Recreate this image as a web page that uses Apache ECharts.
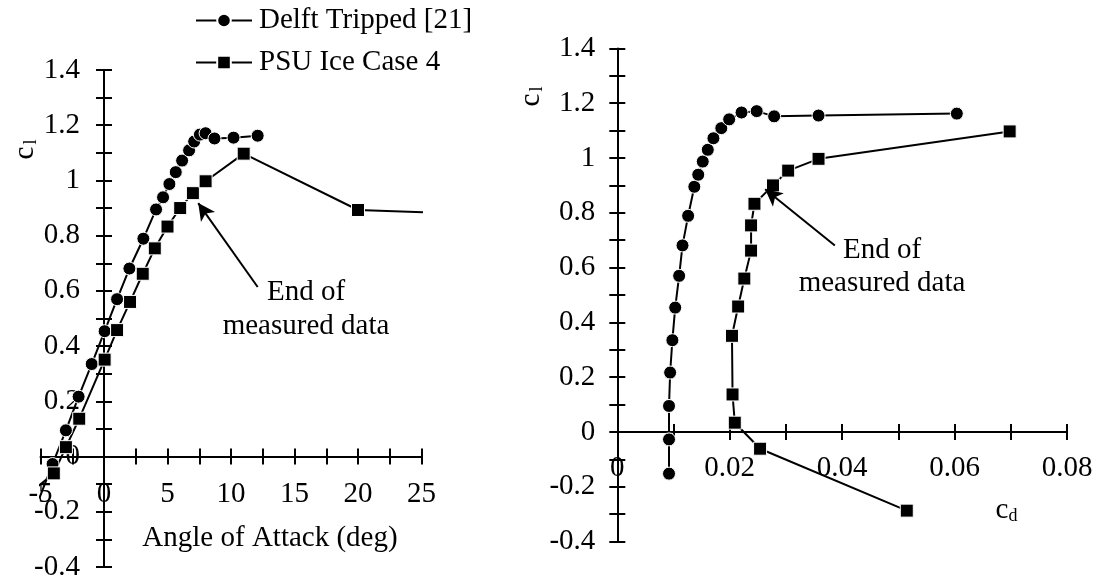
<!DOCTYPE html>
<html>
<head>
<meta charset="utf-8">
<script src="https://cdn.jsdelivr.net/npm/echarts@6.0.0/dist/echarts.min.js"></script>
<style>
  html, body { margin: 0; padding: 0; background: #fff; }
  #chart { width: 1096px; height: 581px; }
</style>
</head>
<body>
<div id="chart"></div>
<script>
// Delft tripped airfoil, angle of attack (deg), lift and drag coefficients
const alphaDelft = [-5.1, -4.05, -3, -2, -0.97, 0.05, 1.03, 2, 3.1, 4.1, 4.65, 5.15, 5.65, 6.15, 6.7, 7.1, 7.55, 8.0, 8.7, 10.2, 12.1];
const clDelft    = [-0.152, -0.027, 0.095, 0.217, 0.335, 0.454, 0.57, 0.681, 0.789, 0.895, 0.939, 0.987, 1.03, 1.072, 1.109, 1.141, 1.166, 1.171, 1.152, 1.155, 1.162];
const cdDelft    = [0.0092, 0.0092, 0.0092, 0.0094, 0.0098, 0.0103, 0.0110, 0.0116, 0.0126, 0.0137, 0.0144, 0.0152, 0.0161, 0.0171, 0.0185, 0.0199, 0.0221, 0.0248, 0.0279, 0.0358, 0.0604];

// PSU ice case 4
const alphaPsu = [-10, -3.95, -3, -1.95, 0.05, 1.03, 2.05, 3.05, 4.0, 5.0, 6.0, 7.0, 8.0, 11.0, 20.0, 30.0];
const clPsu    = [-0.287, -0.061, 0.034, 0.137, 0.351, 0.458, 0.56, 0.662, 0.754, 0.833, 0.9, 0.954, 0.997, 1.097, 0.893, 0.877];
const cdPsu    = [0.0515, 0.0254, 0.0209, 0.0205, 0.0204, 0.0215, 0.0226, 0.0238, 0.0238, 0.0244, 0.0277, 0.0304, 0.0358, 0.0698];

// Axis ranges and tick steps
const alphaRange = [-5, 25, 5];
const cdRange = [0, 0.08, 0.02];
const clRange = [-0.4, 1.4, 0.2];

// "End of measured data" arrows: [tail, head] in data coordinates
const arrowLift = [[12.1, 0.614], [7.42, 0.918]];
const arrowPolar = [[0.0387, 0.681], [0.0263, 0.886]];

const seriesNames = ['Delft Tripped [21]', 'PSU Ice Case 4'];

const FONT = 'Liberation Serif, Times New Roman, serif';
const FS = 29;
const BLACK = '#000';

// Plot areas
const gridL = { left: 40.5, top: 70, width: 381, height: 497 };
const gridR = { left: 617.3, top: 48.4, width: 449.7, height: 493.2 };

function pairs(xs, ys) {
  const n = Math.min(xs.length, ys.length);
  const out = [];
  for (let i = 0; i < n; i++) out.push([xs[i], ys[i]]);
  return out;
}

// Pixel shift that moves an edge axis onto the other axis's zero.
function zeroShift(range, span) {
  return (0 - range[0]) / (range[1] - range[0]) * span;
}

// One visible axis plus an inner twin gives the crossing tick marks.
function valueAxis(grid, range, position, offset, outer, labelMargin) {
  return {
    type: 'value',
    gridIndex: grid,
    position: position,
    offset: offset,
    min: range[0],
    max: range[1],
    interval: range[2],
    axisLine: { show: outer, onZero: false, lineStyle: { color: BLACK, width: 2 } },
    axisTick: { show: true, inside: !outer, length: 8, lineStyle: { color: BLACK, width: 2 } },
    minorTick: { show: true, splitNumber: 2, length: 8, lineStyle: { color: BLACK, width: 2 } },
    splitLine: { show: false },
    minorSplitLine: { show: false },
    axisLabel: {
      show: outer,
      color: BLACK,
      fontFamily: FONT,
      fontSize: FS,
      margin: labelMargin,
      showMinLabel: true,
      showMaxLabel: true,
      hideOverlap: false,
      formatter: function (v) { return String(+v.toFixed(4)); }
    }
  };
}

const lineBase = {
  type: 'line',
  clip: true,
  lineStyle: { color: BLACK, width: 2 },
  itemStyle: { color: BLACK, borderColor: '#fff', borderWidth: 1 },
  emphasis: { disabled: true },
  animation: false
};

function arrowMark(a) {
  return {
    silent: true,
    symbol: ['none', 'arrow'],
    symbolSize: [13, 17],
    lineStyle: { color: BLACK, width: 2, type: 'solid' },
    label: { show: false },
    emphasis: { disabled: true },
    data: [[{ coord: a[0] }, { coord: a[1] }]]
  };
}

function textEl(x, y, str, size) {
  return {
    type: 'text', x: x, y: y, silent: true,
    style: { text: str, fill: BLACK, font: size + 'px ' + FONT, align: 'center', verticalAlign: 'middle' }
  };
}

function subscriptTitle(x, y, main, sub, rotated) {
  return {
    type: 'group', x: x, y: y, rotation: rotated ? Math.PI / 2 : 0, silent: true,
    children: [
      textEl(0, 0, main, FS),
      textEl(11, 6, sub, 18)
    ]
  };
}

// x axes sit on cl = 0, the left y axis on alpha = 0
const xShiftL = -zeroShift(clRange, gridL.height);
const xShiftR = -zeroShift(clRange, gridR.height);
const yShiftL = -zeroShift(alphaRange, gridL.width);
const yShiftR = -zeroShift(cdRange, gridR.width);

const option = {
  animation: false,
  backgroundColor: '#fff',
  legend: {
    data: seriesNames,
    orient: 'vertical',
    left: 195,
    top: 6,
    padding: 0,
    itemWidth: 56,
    itemHeight: 17,
    itemGap: 13,
    selectedMode: false,
    textStyle: { color: BLACK, fontFamily: FONT, fontSize: FS, padding: [0, 0, 0, 2] }
  },
  grid: [
    Object.assign({ outerBoundsMode: 'none', containLabel: false }, gridL),
    Object.assign({ outerBoundsMode: 'none', containLabel: false }, gridR)
  ],
  xAxis: [
    valueAxis(0, alphaRange, 'bottom', xShiftL, true, 23),
    valueAxis(0, alphaRange, 'bottom', xShiftL, false, 23),
    valueAxis(1, cdRange, 'bottom', xShiftR, true, 22),
    valueAxis(1, cdRange, 'bottom', xShiftR, false, 22)
  ],
  yAxis: [
    valueAxis(0, clRange, 'left', yShiftL, true, 24),
    valueAxis(0, clRange, 'left', yShiftL, false, 24),
    valueAxis(1, clRange, 'left', yShiftR, true, 22),
    valueAxis(1, clRange, 'left', yShiftR, false, 22)
  ],
  series: [
    Object.assign({}, lineBase, {
      name: seriesNames[0], xAxisIndex: 0, yAxisIndex: 0,
      symbol: 'circle', symbolSize: 13,
      data: pairs(alphaDelft, clDelft)
    }),
    Object.assign({}, lineBase, {
      name: seriesNames[1], xAxisIndex: 0, yAxisIndex: 0,
      symbol: 'rect', symbolSize: 13,
      data: pairs(alphaPsu, clPsu),
      markLine: arrowMark(arrowLift)
    }),
    Object.assign({}, lineBase, {
      name: seriesNames[0], xAxisIndex: 2, yAxisIndex: 2,
      symbol: 'circle', symbolSize: 13,
      data: pairs(cdDelft, clDelft)
    }),
    Object.assign({}, lineBase, {
      name: seriesNames[1], xAxisIndex: 2, yAxisIndex: 2,
      symbol: 'rect', symbolSize: 13,
      data: pairs(cdPsu, clPsu),
      markLine: arrowMark(arrowPolar)
    })
  ],
  graphic: [
    subscriptTitle(25, 153, 'c', 'l', true),
    subscriptTitle(531, 100, 'c', 'l', true),
    subscriptTitle(1002, 510, 'c', 'd', false),
    textEl(270, 538, 'Angle of Attack (deg)', FS),
    textEl(306, 292, 'End of', FS),
    textEl(306, 326, 'measured data', FS),
    textEl(882, 250, 'End of', FS),
    textEl(882, 283, 'measured data', FS)
  ]
};

const chart = echarts.init(document.getElementById('chart'), null, { renderer: 'canvas' });
chart.setOption(option);
</script>
</body>
</html>
